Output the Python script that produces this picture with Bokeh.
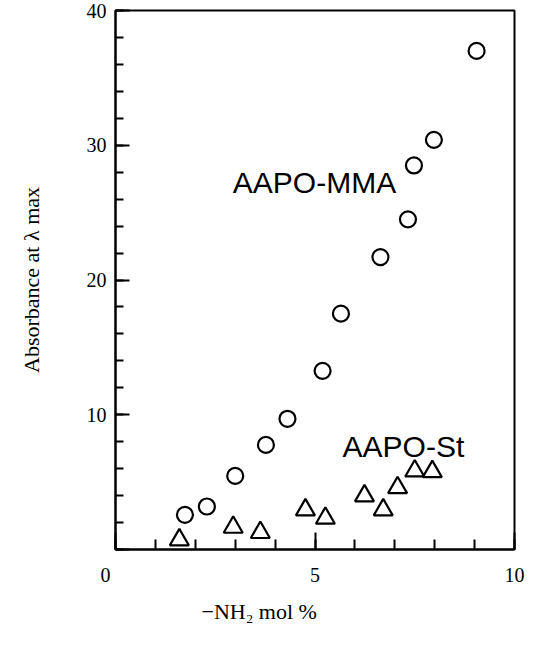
from bokeh.plotting import figure
from bokeh.models import SingleIntervalTicker, Range1d, Label, Title
from bokeh.embed import file_html
from bokeh.resources import INLINE

# AAPO-MMA (circles)
mma_x = [1.74, 2.29, 3.00, 3.77, 4.31, 5.19, 5.65, 6.64, 7.33, 7.48, 7.98, 9.05]
mma_y = [2.57, 3.19, 5.46, 7.76, 9.70, 13.26, 17.5, 21.7, 24.5, 28.5, 30.4, 37.0]
# AAPO-St (triangles)
st_x = [1.60, 2.95, 3.63, 4.76, 5.26, 6.24, 6.71, 7.07, 7.50, 7.94]
st_y = [0.72, 1.65, 1.26, 2.94, 2.32, 3.98, 2.94, 4.59, 5.83, 5.78]

series_names = ["AAPO-MMA", "AAPO-St"]
x_title = "\u2212NH\u2082 mol %"
y_title = "Absorbance at \u03bb max"

SERIF = "Liberation Serif"
SANS = "Liberation Sans"

p = figure(width=525, height=631, x_range=Range1d(0, 10), y_range=Range1d(0, 40),
           output_backend="svg", toolbar_location=None,
           min_border_left=115, min_border_right=11, min_border_top=10, min_border_bottom=81)

p.grid.visible = False
p.outline_line_color = "black"
p.outline_line_width = 2
p.background_fill_color = "white"
p.border_fill_color = "white"

xa = p.xaxis[0]
xa.ticker = SingleIntervalTicker(interval=5, num_minor_ticks=5)
xa.major_label_overrides = {0: "0\u2007\u2007"}
ya = p.yaxis[0]
ya.ticker = SingleIntervalTicker(interval=10, num_minor_ticks=5)
ya.major_label_overrides = {0: ""}

for ax in (xa, ya):
    ax.axis_line_width = 2
    ax.axis_line_color = "black"
    ax.major_tick_line_width = 2
    ax.minor_tick_line_width = 2
    ax.major_tick_line_color = "black"
    ax.minor_tick_line_color = "black"
    ax.major_tick_out = 0
    ax.minor_tick_out = 0
    ax.major_label_text_font = SERIF
    ax.major_label_text_font_size = "20px"
    ax.major_label_text_color = "black"

xa.major_tick_in = 17
xa.minor_tick_in = 10
xa.major_label_standoff = 14
ya.major_tick_in = 14
ya.minor_tick_in = 8
ya.major_label_standoff = 9

ya.axis_label = y_title
ya.axis_label_text_font = SERIF
ya.axis_label_text_font_size = "22px"
ya.axis_label_text_font_style = "normal"
ya.axis_label_text_color = "black"
ya.axis_label_standoff = 40

p.scatter(mma_x, mma_y, marker="circle", size=16, fill_color=None,
          line_color="black", line_width=2.2)
p.scatter(st_x, st_y, marker="triangle", size=19, fill_color=None,
          line_color="black", line_width=2.2)

p.add_layout(Label(x=2.94, y=27.2, text=series_names[0], text_font=SANS,
                   text_font_size="30px", text_align="left", text_baseline="alphabetic",
                   text_color="black"))
p.add_layout(Label(x=5.69, y=7.64, text=series_names[1], text_font=SANS,
                   text_font_size="30px", text_align="left", text_baseline="alphabetic",
                   text_color="black"))

p.add_layout(Title(text=x_title, align="left", offset=86, standoff=16,
                   text_font=SERIF, text_font_size="22px", text_font_style="normal",
                   text_color="black"), "below")

open("out.html", "w").write(file_html(p, INLINE))
